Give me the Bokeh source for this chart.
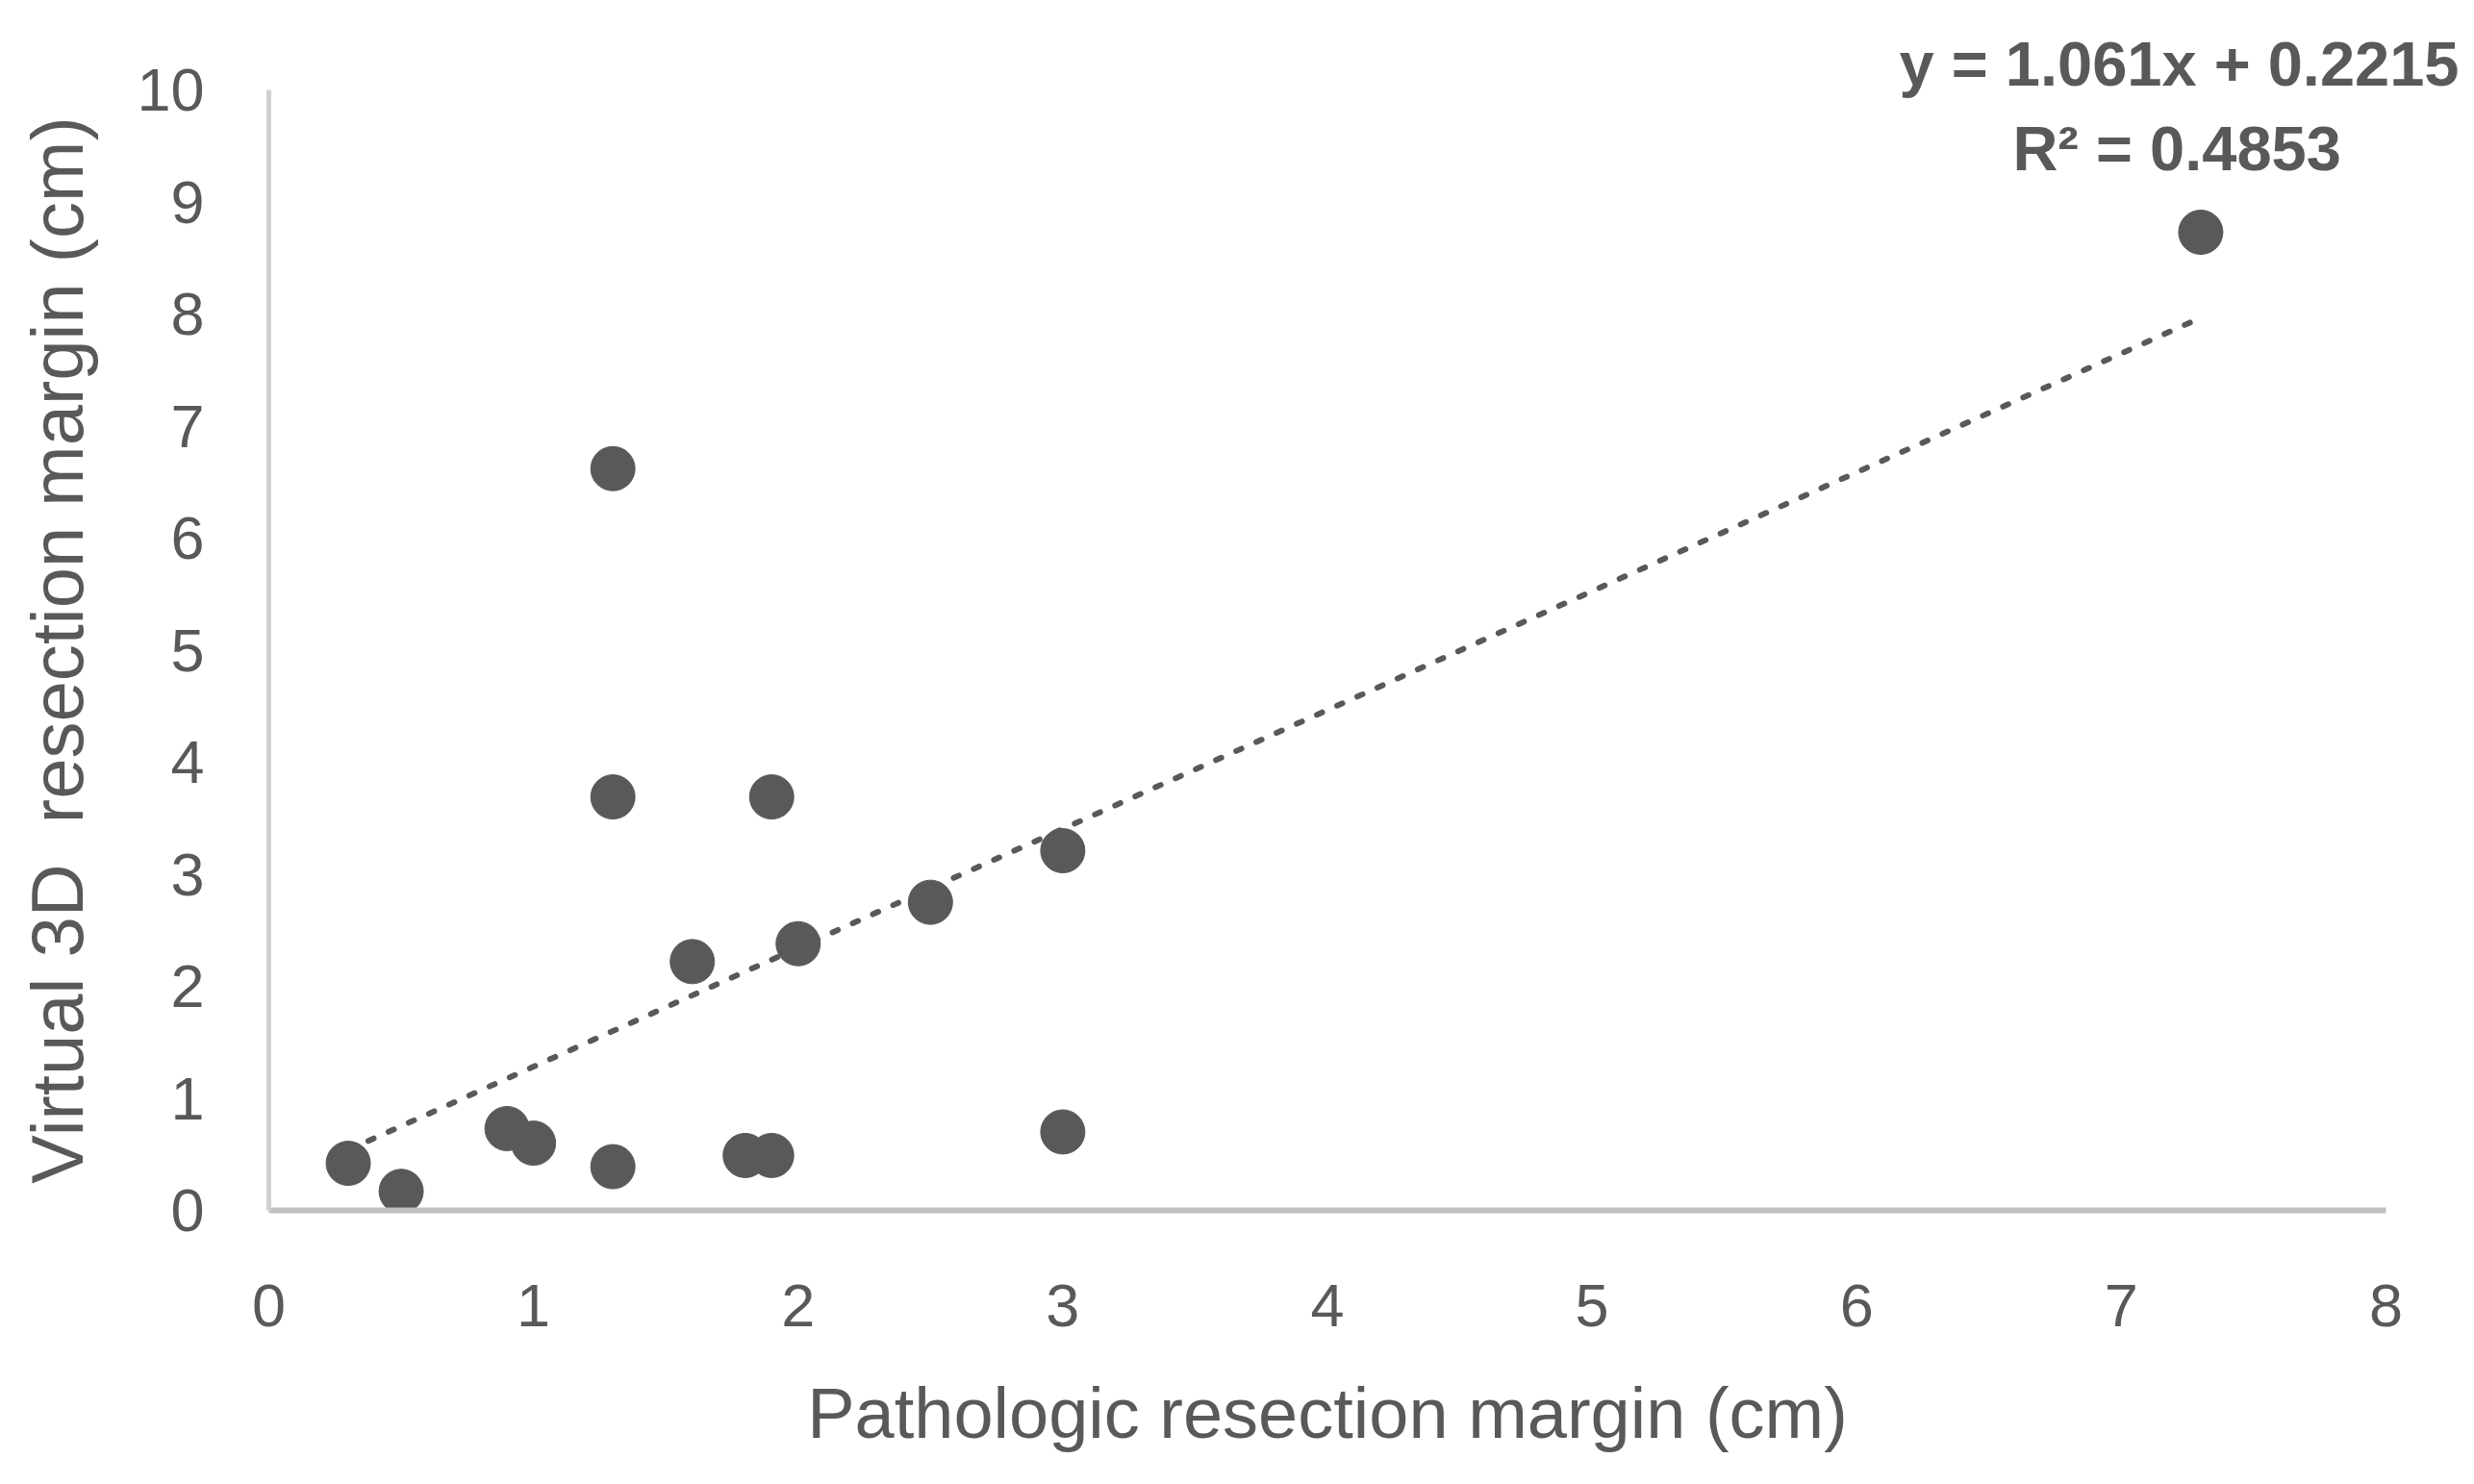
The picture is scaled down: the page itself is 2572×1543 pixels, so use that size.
from bokeh.plotting import figure
from bokeh.models import Range1d, Label, FixedTicker, Title
from bokeh.embed import file_html
from bokeh.resources import INLINE

# Data
pathologic_cm = [0.3, 0.5, 0.9, 1.0, 1.3, 1.3, 1.3, 1.6, 1.8, 1.9, 1.9, 2.0, 2.5, 3.0, 3.0, 7.3]
virtual3d_cm = [0.42, 0.17, 0.73, 0.60, 6.62, 3.69, 0.39, 2.22, 0.49, 0.49, 3.69, 2.38, 2.75, 3.21, 0.70, 8.73]
slope = 1.061
intercept = 0.2215
r_squared = 0.4853
x_ticks = [0, 1, 2, 3, 4, 5, 6, 7, 8]
y_ticks = [0, 1, 2, 3, 4, 5, 6, 7, 8, 9, 10]
x_title = "Pathologic resection margin (cm)"
y_title = "Virtual 3D\u00a0 resection margin (cm)"

GRAY = "#595959"
FONT = "Liberation Sans"

W, H = 2556, 1527
LEFT, RIGHT, TOP, BOTTOM = 279, 76, 93, 269

p = figure(width=W, height=H, output_backend="svg", toolbar_location=None,
           x_range=Range1d(x_ticks[0], x_ticks[-1]), y_range=Range1d(y_ticks[0], y_ticks[-1]),
           min_border_left=LEFT, min_border_right=RIGHT, min_border_top=TOP, min_border_bottom=BOTTOM)
p.outline_line_color = None
p.xgrid.visible = False
p.ygrid.visible = False
p.background_fill_color = "white"
p.border_fill_color = "white"

# trendline
x0, x1 = min(pathologic_cm), max(pathologic_cm)
p.line([x0, x1], [slope * x0 + intercept, slope * x1 + intercept],
       line_color=GRAY, line_width=6, line_dash="6 17", line_cap="round")

p.scatter(pathologic_cm, virtual3d_cm, size=46, fill_color=GRAY, line_color=GRAY)

p.xaxis.ticker = FixedTicker(ticks=x_ticks)
p.yaxis.ticker = FixedTicker(ticks=y_ticks)
for ax in (p.xaxis[0], p.yaxis[0]):
    ax.major_tick_line_color = None
    ax.minor_tick_line_color = None
    ax.major_label_text_font = FONT
    ax.major_label_text_font_size = "63px"
    ax.major_label_text_color = GRAY
    ax.axis_label_text_font = FONT
    ax.axis_label_text_font_style = "normal"
    ax.axis_label_text_color = GRAY

p.xaxis.axis_line_color = "#bfbfbf"
p.xaxis.axis_line_width = 6
p.yaxis.axis_line_color = "#d0d0d0"
p.yaxis.axis_line_width = 5

p.xaxis.major_label_standoff = 71
p.yaxis.major_label_standoff = 61
p.xaxis.axis_label = x_title
p.xaxis.axis_label_text_font_size = "74px"
p.xaxis.axis_label_standoff = 46
p.yaxis.axis_label = y_title
p.yaxis.axis_label_text_font_size = "76px"
p.yaxis.axis_label_standoff = 37

# equation: first line overhangs the plot frame, so it goes in the top panel
p.add_layout(Title(text=f"y = {slope}x + {intercept}", align="right", offset=-RIGHT, standoff=-18,
                   text_font=FONT, text_font_size="65px", text_font_style="bold",
                   text_color=GRAY), "above")
p.add_layout(Label(x=7.21, y=9.48, text=f"R\u00b2 = {r_squared}", text_align="center",
                   text_baseline="alphabetic", text_font=FONT, text_font_size="65px",
                   text_font_style="bold", text_color=GRAY))

open("out.html", "w").write(file_html(p, INLINE))
